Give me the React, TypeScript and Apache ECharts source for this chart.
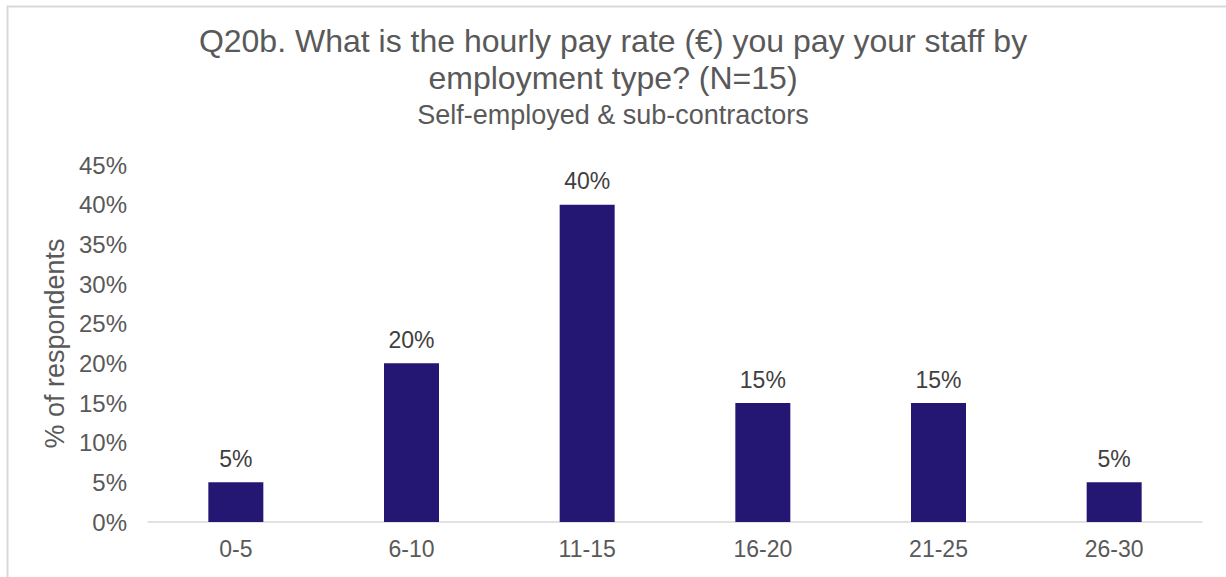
import React, { useEffect, useRef } from "react";
import * as echarts from "echarts";

const categories = ["0-5", "6-10", "11-15", "16-20", "21-25", "26-30"];
const values = [5, 20, 40, 15, 15, 5];
const titleLines = [
  "Q20b. What is the hourly pay rate (€) you pay your staff by",
  "employment type? (N=15)",
];
const subtitle = "Self-employed & sub-contractors";
const yAxisName = "% of respondents";

const FONT = "'Liberation Sans', Arial, sans-serif";

export default function App() {
  const ref = useRef<HTMLDivElement>(null);
  useEffect(() => {
    document.body.style.margin = "0";
    const chart = echarts.init(ref.current!, null, { renderer: "svg" });
    chart.setOption({
      animation: false,
      backgroundColor: "#ffffff",
      textStyle: { fontFamily: FONT },
      title: [
        {
          text: titleLines.join("\n"),
          left: "center",
          top: 22,
          padding: 0,
          textStyle: {
            fontFamily: FONT,
            fontSize: 32,
            lineHeight: 37,
            fontWeight: "normal",
            color: "#595959",
          },
        },
        {
          text: subtitle,
          left: "center",
          top: 101,
          padding: 0,
          textStyle: {
            fontFamily: FONT,
            fontSize: 27,
            lineHeight: 27,
            fontWeight: "normal",
            color: "#595959",
          },
        },
      ],
      graphic: [
        {
          type: "rect",
          shape: { x: 7.5, y: 6.5, width: 1400, height: 800 },
          style: { fill: "none", stroke: "#d9d9d9", lineWidth: 2 },
          silent: true,
        },
      ],
      grid: { left: 148, right: 24, top: 165, bottom: 55, containLabel: false },
      xAxis: {
        type: "category",
        data: categories,
        axisLine: { show: true, lineStyle: { color: "#d9d9d9", width: 1.5 } },
        axisTick: { show: false },
        axisLabel: { margin: 15, fontSize: 23, color: "#595959", fontFamily: FONT },
      },
      yAxis: {
        type: "value",
        min: 0,
        max: 45,
        interval: 5,
        name: yAxisName,
        nameLocation: "middle",
        nameRotate: 90,
        nameGap: 77,
        nameTextStyle: { fontSize: 27, color: "#595959", fontFamily: FONT },
        axisLine: { show: false },
        axisTick: { show: false },
        splitLine: { show: false },
        axisLabel: {
          formatter: "{value}%",
          fontSize: 24,
          margin: 21,
          color: "#595959",
          fontFamily: FONT,
        },
      },
      series: [
        {
          type: "bar",
          data: values,
          barWidth: 55,
          itemStyle: { color: "#231773" },
          label: {
            show: true,
            position: "top",
            distance: 12,
            formatter: "{c}%",
            fontSize: 23,
            color: "#404040",
            fontFamily: FONT,
          },
        },
      ],
    });
    return () => chart.dispose();
  }, []);
  return <div ref={ref} style={{ width: 1226, height: 577 }} />;
}
